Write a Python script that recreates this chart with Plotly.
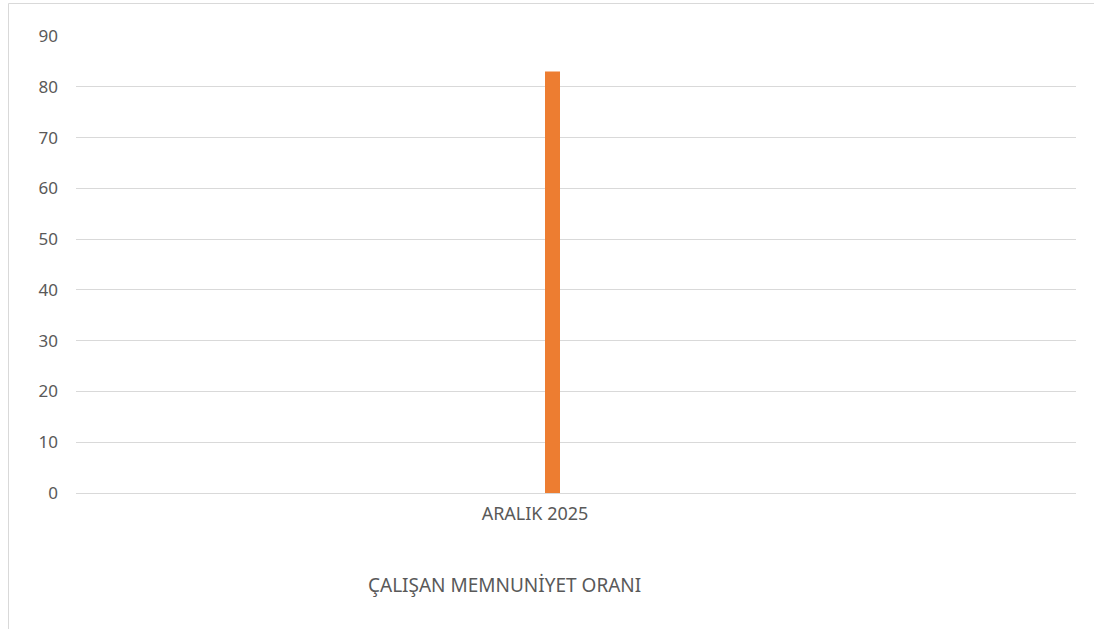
import plotly.graph_objects as go

categories = ["ARALIK 2025"]
values = [83]
series_name = "ÇALIŞAN MEMNUNİYET ORANI"
y_ticks = [0, 10, 20, 30, 40, 50, 60, 70, 80, 90]

fig = go.Figure()
fig.add_trace(go.Bar(
    x=categories, y=values, name=series_name,
    marker=dict(color="#ED7D31", line=dict(width=0)),
    width=0.015, offset=-0.031,
))

font_family = "Noto Sans, Open Sans, sans-serif"
fig.update_layout(
    width=1094, height=629,
    margin=dict(l=76, r=18, t=36, b=136, autoexpand=False),
    paper_bgcolor="white", plot_bgcolor="white",
    showlegend=False,
    font=dict(family=font_family, color="#595959", size=17),
    xaxis=dict(
        range=[-0.5, 0.5], showgrid=False, zeroline=False,
        showline=False, ticks="", ticklabelshift=-41,
        ticklabelstandoff=8,
        tickfont=dict(size=18, color="#595959"),
    ),
    yaxis=dict(
        range=[0, 90], tickvals=y_ticks, showgrid=True,
        gridcolor="#d9d9d9", gridwidth=1, zeroline=True,
        zerolinecolor="#d9d9d9", zerolinewidth=1, showline=False,
        ticks="", ticklabelstandoff=17,
        tickfont=dict(size=17, color="#595959"),
    ),
    shapes=[dict(
        type="rect", xref="paper", yref="paper",
        x0=(8.5 - 76) / 1000, x1=(1110 - 76) / 1000,
        y0=(493 - 650) / 457, y1=(493 - 3.5) / 457,
        line=dict(color="#d9d9d9", width=1), fillcolor="rgba(0,0,0,0)",
        layer="below",
    )],
    annotations=[dict(
        text=series_name, xref="paper", yref="paper",
        x=(504 - 76) / 1000, y=(493 - 585) / 457,
        xanchor="center", yanchor="middle", showarrow=False,
        font=dict(size=19, color="#595959", family=font_family),
    )],
)

fig.write_html(
    "out.html",
    config={"displayModeBar": False},
    post_script="document.body.style.margin='0px';document.body.style.overflow='hidden';",
)
